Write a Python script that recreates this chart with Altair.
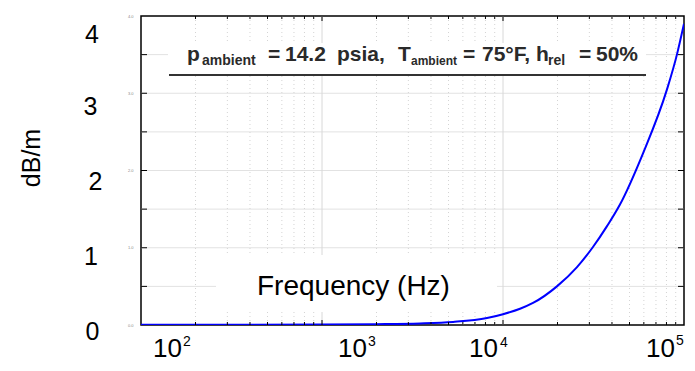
import altair as alt
import pandas as pd

# ---- data ----
freq = [100, 1000, 2000, 3475, 5300, 8160, 10000, 12420, 14650, 19860, 25640,
        31410, 37550, 44280, 59300, 80540, 91400, 100000]
alpha = [0.002, 0.005, 0.01, 0.02, 0.04, 0.09, 0.14, 0.21, 0.285, 0.5, 0.75,
         1.01, 1.28, 1.56, 2.22, 3.05, 3.50, 3.90]

minor_freqs = [200, 300, 400, 500, 600, 700, 800, 900,
               2000, 3000, 4000, 5000, 6000, 7000, 8000, 9000,
               20000, 30000, 40000, 50000, 60000, 70000, 80000, 90000]
major_freqs = [1000, 10000]
y_ticks = [0.5, 1.0, 1.5, 2.0, 2.5, 3.0, 3.5]
y_axis_values = [0, 0.5, 1.0, 1.5, 2.0, 2.5, 3.0, 3.5, 4.0]

y_labels = ["4", "3", "2", "1", "0"]
x_label_bases = ["10", "10", "10", "10"]
x_label_exps = ["2", "3", "4", "5"]

# title pieces: (text, is_subscript)
title_parts = [("p", False), ("ambient", True), ("=", False), ("14.2", False),
               ("psia,", False), ("T", False), ("ambient", True), ("=", False),
               ("75°F,", False), ("h", False), ("rel", True), ("=", False),
               ("50%", False)]

W, H = 543, 309
FONT = "Liberation Sans"

xscale = alt.Scale(type="log", domain=[100, 100000], nice=False)
yscale = alt.Scale(domain=[0, 4], nice=False, zero=False)

curve_df = pd.DataFrame({"f": freq, "a": alpha})
minor_df = pd.DataFrame({"f": minor_freqs})
major_df = pd.DataFrame({"f": major_freqs})
ytick_df = pd.DataFrame({"v": y_ticks})

one = alt.Data(values=[{"k": 1}])

line = alt.Chart(curve_df).mark_line(color="#0000ff", strokeWidth=2,
                                     interpolate="monotone", clip=True).encode(
    x=alt.X("f:Q", scale=xscale, axis=None),
    y=alt.Y("a:Q", scale=yscale,
            axis=alt.Axis(values=y_axis_values, grid=False, domain=False,
                          ticks=False, labels=True, labelOverlap=False,
                          labelFontSize=4, labelColor="#888", labelPadding=8,
                          title=None)),
)

y_grid = alt.Chart(ytick_df).mark_rule(color="#e2e2e2", strokeWidth=1).encode(
    y=alt.Y("v:Q", scale=yscale), x=alt.value(0), x2=alt.value(W))
minor_grid = alt.Chart(minor_df).mark_rule(color="#d4d4d4", strokeWidth=1,
                                           strokeDash=[1, 3]).encode(
    x=alt.X("f:Q", scale=xscale, axis=None),
)
major_grid = alt.Chart(major_df).mark_rule(color="#d8d8d8", strokeWidth=1).encode(
    x=alt.X("f:Q", scale=xscale, axis=None),
)

# white boxes behind annotations
title_box = alt.Chart(one).mark_rect(fill="white").encode(
    x=alt.value(27), x2=alt.value(505), y=alt.value(27), y2=alt.value(58))
freq_box = alt.Chart(one).mark_rect(fill="white").encode(
    x=alt.value(75), x2=alt.value(356), y=alt.value(239), y2=alt.value(296))


def vticks(df, y0, y1):
    return alt.Chart(df).mark_rule(color="#000", strokeWidth=1).encode(
        x=alt.X("f:Q", scale=xscale, axis=None),
        y=alt.value(y0), y2=alt.value(y1))


bottom_minor = vticks(minor_df, H, H - 3)
bottom_major = vticks(major_df, H, H - 5)
top_minor = vticks(minor_df, 0, 3)
top_major = vticks(major_df, 0, 5)
left_ticks = alt.Chart(ytick_df).mark_rule(color="#000", strokeWidth=1).encode(
    y=alt.Y("v:Q", scale=yscale), x=alt.value(0), x2=alt.value(6))
right_ticks = alt.Chart(ytick_df).mark_rule(color="#000", strokeWidth=1).encode(
    y=alt.Y("v:Q", scale=yscale), x=alt.value(W - 6), x2=alt.value(W))

underline = alt.Chart(one).mark_rule(color="#333", strokeWidth=2).encode(
    x=alt.value(28), x2=alt.value(505), y=alt.value(59))


def txt(s, x, y, size, weight="normal", align="left", baseline="alphabetic",
        color="#000", angle=None):
    kw = dict(align=align, baseline=baseline, fontSize=size, fontWeight=weight,
              font=FONT, color=color)
    if angle is not None:
        kw["angle"] = angle
    return alt.Chart(alt.Data(values=[{"t": s}])).mark_text(**kw).encode(
        x=alt.value(x), y=alt.value(y), text="t:N")


TC = "#2a2a2a"
title_x = [46, 61, 127, 144, 196, 257, 270, 322, 341, 395, 407, 438, 455]
sub_sizes = {1: 14, 6: 12, 10: 14}
texts = []
for i, ((s, is_sub), x) in enumerate(zip(title_parts, title_x)):
    if is_sub:
        texts.append(txt(s, x, 49, sub_sizes[i], "bold", color=TC))
    else:
        texts.append(txt(s, x, 45, 21, "bold", color=TC))

texts += [
    txt("Frequency (Hz)", 116, 279, 28),
    txt("dB/m", -109, 142, 25, align="center", baseline="middle", angle=270),
]
y_lab_pos = [(-49, 27), (-50.5, 99), (-45.5, 174), (-50, 249), (-48.5, 324)]
for s, (x, y) in zip(y_labels, y_lab_pos):
    texts.append(txt(s, x, y, 25, align="center"))
base_pos = [(12, 341), (197, 341), (328, 341), (505, 341)]
exp_pos = [(42, 330), (227, 330), (359, 331), (535, 329)]
for s, (x, y) in zip(x_label_bases, base_pos):
    texts.append(txt(s, x, y, 26))
for s, (x, y) in zip(x_label_exps, exp_pos):
    texts.append(txt(s, x, y, 14))

chart = alt.layer(
    y_grid, minor_grid, major_grid, title_box, freq_box, line,
    bottom_minor, bottom_major, top_minor, top_major, left_ticks, right_ticks,
    underline, *texts
).properties(
    width=W, height=H,
    background="white",
    autosize=alt.AutoSizeParams(type="none"),
    padding={"left": 133, "top": 8, "right": 3, "bottom": 38},
).configure_view(
    stroke="#000", strokeWidth=1.5
)

chart.save("out.html", embed_options={"renderer": "svg", "actions": False})
